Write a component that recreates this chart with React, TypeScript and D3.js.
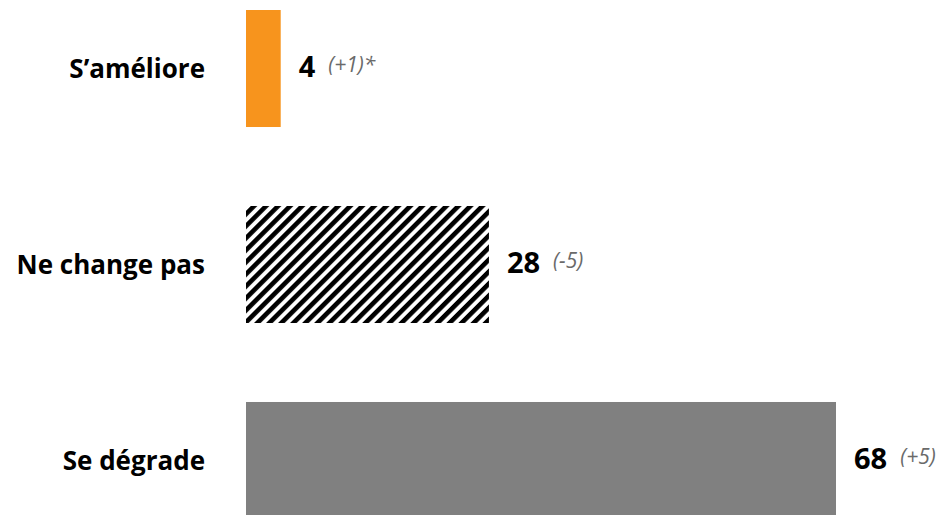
import * as d3 from 'd3';
import React, { useEffect, useRef } from 'react';

const categories = ['S\u2019améliore', 'Ne change pas', 'Se dégrade'];
const values = [4, 28, 68];
const deltas = ['(+1)*', '(-5)', '(+5)'];
const fills = ['#F7941D', 'url(#hatch)', '#808080'];

const WIDTH = 940;
const HEIGHT = 515;
const FONT = '"Open Sans", "Noto Sans", sans-serif';

export default function App() {
    const ref = useRef<SVGSVGElement | null>(null);

    useEffect(() => {
        document.body.style.margin = '0';

        const svg = d3
            .select(ref.current)
            .attr('width', WIDTH)
            .attr('height', HEIGHT)
            .style('background', '#fff');

        svg.selectAll('*').remove();

        // diagonal hatch for the middle bar
        const pattern = svg
            .append('defs')
            .append('pattern')
            .attr('id', 'hatch')
            .attr('patternUnits', 'userSpaceOnUse')
            .attr('width', 8.5)
            .attr('height', 8.5)
            .attr('patternTransform', 'rotate(45)');
        pattern.append('rect').attr('width', 8.5).attr('height', 8.5).attr('fill', '#fff');
        pattern
            .append('rect')
            .attr('x', 0)
            .attr('width', 4.6)
            .attr('height', 8.5)
            .attr('fill', '#000');

        // scales
        const y = d3
            .scaleBand()
            .domain(categories)
            .range([10, 519])
            .paddingInner(0.403)
            .paddingOuter(0);

        const x = d3.scaleLinear().domain([0, 68]).range([246, 836]);

        const rows = categories.map((c, i) => ({
            category: c,
            value: values[i],
            delta: deltas[i],
            fill: fills[i],
        }));

        const row = svg
            .selectAll('g.row')
            .data(rows)
            .join('g')
            .classed('row', true);

        row.append('rect')
            .attr('x', x(0))
            .attr('y', (d) => y(d.category)!)
            .attr('width', (d) => x(d.value) - x(0))
            .attr('height', y.bandwidth())
            .attr('fill', (d) => d.fill);

        // category labels
        row.append('text')
            .attr('x', 205)
            .attr('y', (d) => y(d.category)! + y.bandwidth() / 2)
            .attr('dy', '0.35em')
            .attr('text-anchor', 'end')
            .style('font-family', FONT)
            .style('font-weight', 700)
            .style('font-size', '26px')
            .style('fill', '#000')
            .text((d) => d.category);

        // value + delta
        const label = row
            .append('text')
            .attr('x', (d) => x(d.value) + 18)
            .attr('y', (d) => y(d.category)! + y.bandwidth() / 2 + 3)
            .attr('dy', '0.35em')
            .style('font-family', FONT);

        label
            .append('tspan')
            .style('font-weight', 700)
            .style('font-size', '29px')
            .style('fill', '#000')
            .text((d) => d.value);

        label
            .append('tspan')
            .attr('dx', 13)
            .attr('dy', -5)
            .style('font-style', 'italic')
            .style('font-size', '21px')
            .style('fill', '#6a6a6a')
            .text((d) => d.delta);
    }, []);

    return (
        <div style={{ position: 'absolute', left: 0, top: 0 }}>
            <svg ref={ref} style={{ display: 'block' }}></svg>
        </div>
    );
}
